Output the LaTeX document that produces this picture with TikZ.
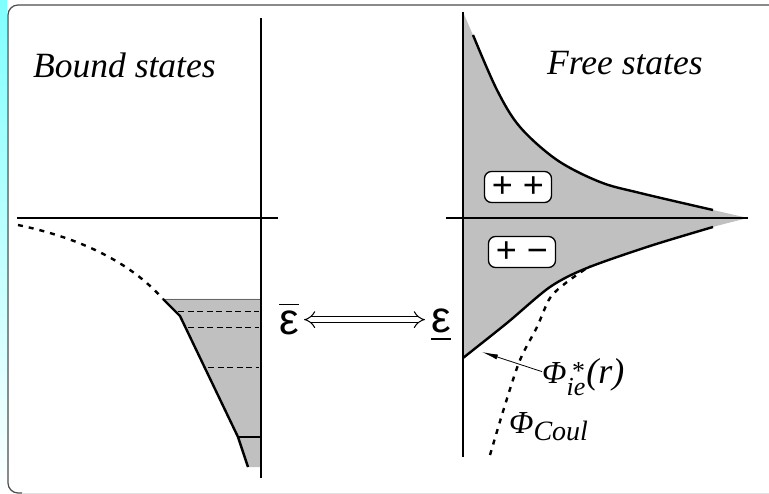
\documentclass[tikz,border=0pt]{standalone}
\usepackage{fontspec}
\setmainfont{Liberation Serif}
\newfontfamily\sansfont{Liberation Sans}
\usetikzlibrary{arrows.meta}
\tikzset{
	>={Latex[length=16pt,width=5pt]},
	axis/.style={black, line width=2pt},
	wall/.style={black, line width=2.4pt},
	coul/.style={black, line width=2.4pt, dash pattern=on 5pt off 6pt},
	level/.style={black, line width=0.9pt, dash pattern=on 6pt off 3.5pt},
	title/.style={font=\fontsize{35.5}{40}\selectfont\itshape, inner sep=0pt},
	sign/.style={draw, line width=1.3pt, fill=white, rounded corners=7pt,
		minimum width=67pt, minimum height=31pt, inner sep=0pt,
		font=\sansfont\fontsize{36}{36}\selectfont},
	eps/.style={font=\sansfont\fontsize{44}{44}\selectfont, inner sep=0pt},
	philbl/.style={font=\fontsize{32}{34}\selectfont\itshape, inner sep=0pt},
}

\begin{document}
\begin{tikzpicture}[x=1pt, y=-1pt, line join=round]
	
	% Colors
	\definecolor{ShadeGray}{RGB}{192,192,192}
	
	\useasboundingbox (0,0) rectangle (769,494);
	
	% --- frame and side strip ---
	\shade[top color=cyan!50, bottom color=white] (0,0) rectangle (7,494);
	\draw[black!70, line width=1.2pt, rounded corners=10pt] (769,5) -- (8,5) -- (8,493) -- (22,493);
	\draw[black!12, line width=1pt] (22,493) -- (769,493);
	
	% --- bound states (left) ---
	\node[title, anchor=base west] (bound) at (33,78) {Bound states};
	
	\fill[ShadeGray] (163,299) .. controls (170,306) .. (180,316) -- (238,437) -- (248,467)
	-- (261,467) -- (261,299) -- cycle;
	\draw[black!60, line width=0.8pt] (163,299) -- (261,299);
	\foreach \y/\x in {311/178, 327/188, 367/208}
	\draw[level] (\x,\y) -- (259,\y);
	\draw[black, line width=1.6pt] (238,437) -- (261,437);
	\draw[wall] (163,299) .. controls (170,306) .. (180,316) -- (238,437) -- (248,467);
	\draw[coul] (18,225) .. controls (80,238) and (130,262) .. (163,299);
	
	\draw[axis] (17,218) -- (278,218);
	\draw[axis] (261,18) -- (261,478);
	
	% --- energy correspondence ---
	\node[eps, anchor=base] (epsbar) at (289,335) {\vbox{\hrule height 1.5pt\kern 6pt\hbox{ε}}};
	\node[eps, anchor=base] (epsund) at (441,333) {\vtop{\hbox{ε}\kern 5pt\hrule height 1.5pt}};
	\draw[double, double distance=5pt, line width=1pt, {Implies}-{Implies},
	shorten <=5pt, shorten >=6pt] (epsbar.east) -- (epsbar.east -| epsund.west);
	
	% --- free states (right) ---
	\node[title, anchor=base west] (free) at (547,75) {Free states};
	
	\fill[ShadeGray] (463,218) -- plot[smooth, tension=0.55] coordinates {(463,12) (473,35)
		(497,90) (520,127) (557,160) (600,182) (640,193) (713,210) (748,218)} -- cycle;
	\fill[ShadeGray] (463,218) -- (748,218) -- plot[smooth] coordinates {(748,218) (713,227)
		(650,246) (587,268) (550,287) (507,323) (463,358)} -- cycle;
	
	\draw[wall] plot[smooth, tension=0.55] coordinates {(473,35) (497,90) (520,127)
		(557,160) (600,182) (640,193) (713,210)};
	\draw[wall] plot[smooth] coordinates {(713,227) (650,246) (587,268) (550,287)
		(507,323) (463,358)};
	\draw[coul] plot[smooth] coordinates {(490,455) (505,405) (520,360) (537,327)
		(550,298) (567,282) (590,266)};
	
	\draw[axis] (446,218) -- (748,218);
	\draw[axis] (463,12) -- (463,457);
	
	\node[sign] (pp) at (518,187) {+ +};
	\node[sign] (pm) at (522,252) {+ −};
	
	% potential labels
	\node[philbl, anchor=base west] (phistar) at (542,384)
	{Φ\raisebox{4pt}{\rlap{\fontsize{26}{26}\selectfont\,*}}\raisebox{-12pt}{\fontsize{26}{26}\selectfont ie}\kern1pt{\fontsize{36}{36}\selectfont (r)}};
	\node[philbl, anchor=base west] (phicoul) at (509,433) {Φ\raisebox{-8pt}{\fontsize{28}{28}\selectfont Coul}};
	
	\coordinate (tip) at (482,352);
	\draw[line width=0.8pt, ->] ([yshift=6pt]phistar.west) -- (tip);
	
\end{tikzpicture}
\end{document}
